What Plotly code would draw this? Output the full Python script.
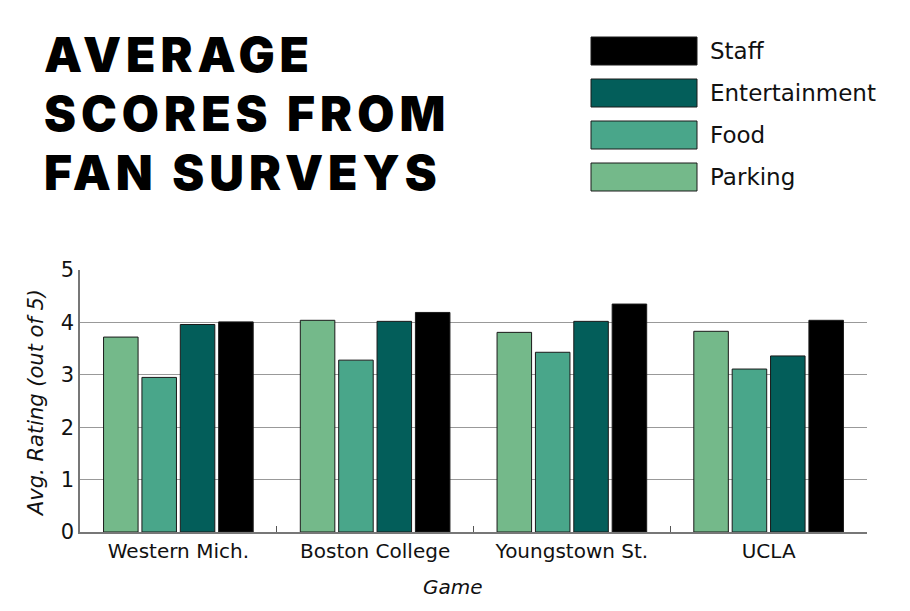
import plotly.graph_objects as go

games = ["Western Mich.", "Boston College", "Youngstown St.", "UCLA"]
series_names = ["Parking", "Food", "Entertainment", "Staff"]
parking = [3.72, 4.04, 3.81, 3.83]
food = [2.95, 3.28, 3.43, 3.11]
entertainment = [3.96, 4.02, 4.02, 3.36]
staff = [4.01, 4.19, 4.35, 4.04]
y_ticks = [0, 1, 2, 3, 4, 5]
title_lines = ["AVERAGE", "SCORES FROM", "FAN SURVEYS"]

colors = {"Parking": "#74B98A", "Food": "#49A68A", "Entertainment": "#035E5A", "Staff": "#000000"}
values = {"Parking": parking, "Food": food, "Entertainment": entertainment, "Staff": staff}

fig = go.Figure()
for name in series_names:
    fig.add_trace(go.Bar(x=games, y=values[name], name=name,
                         marker=dict(color=colors[name], line=dict(color="#1a1a1a", width=1))))

W, H = 910, 611
body_font = "DejaVu Sans"

# plot area in the screenshot: x 80..867, y 270..532
def px(x):
    return (x - 80) / 787.0

def py(y):
    return (532 - y) / 262.0

# custom legend (Staff on top)
legend_order = ["Staff", "Entertainment", "Food", "Parking"]
for i, name in enumerate(legend_order):
    top = 37 + i * 42
    fig.add_shape(type="rect", xref="paper", yref="paper",
                  x0=px(591), x1=px(697), y0=py(top), y1=py(top + 28),
                  fillcolor=colors[name], line=dict(color="#1a1a1a", width=1))
    fig.add_annotation(xref="paper", yref="paper", x=px(708), y=py(top + 14),
                       text=name, showarrow=False, xanchor="left", yanchor="middle",
                       font=dict(family=body_font, size=23, color="#111"))

# title: one text block, base size sets the line spacing, spans set the glyph size
title_html = "<br>".join(
    '<span style="font-size:48px;letter-spacing:5px">%s</span>' % t for t in title_lines)
fig.add_annotation(xref="paper", yref="paper", x=px(42), y=py(113),
                   xanchor="left", yanchor="middle", text=title_html, showarrow=False,
                   align="left",
                   font=dict(family="Inter", size=45.5, color="#000", weight=900))

fig.add_annotation(xref="paper", yref="paper", x=px(453), y=py(587), text="<i>Game</i>",
                   showarrow=False, xanchor="center", yanchor="middle",
                   font=dict(family=body_font, size=20, color="#111"))
fig.add_annotation(xref="paper", yref="paper", x=px(36), y=py(403),
                   text="<i>Avg. Rating (out of 5)</i>", textangle=-90,
                   showarrow=False, xanchor="center", yanchor="middle",
                   font=dict(family=body_font, size=21, color="#111"))

fig.update_layout(
    width=W, height=H,
    margin=dict(l=72, r=51, t=262, b=87),
    paper_bgcolor="white", plot_bgcolor="white",
    barmode="group", bargap=0.22, bargroupgap=0.1,
    showlegend=False,
    font=dict(family=body_font, color="#111"),
    xaxis=dict(showline=True, linecolor="#777", linewidth=1.5, ticks="inside",
               tickson="boundaries", ticklen=6, tickcolor="#555",
               tickfont=dict(size=20, family=body_font, color="#111")),
    yaxis=dict(range=[0, 5], tickvals=y_ticks, showgrid=True, gridcolor="#999", gridwidth=1,
               showline=True, linecolor="#777", linewidth=1.5, zeroline=False,
               tickfont=dict(size=21, family=body_font, color="#111")),
)

fig.write_html("out.html")
